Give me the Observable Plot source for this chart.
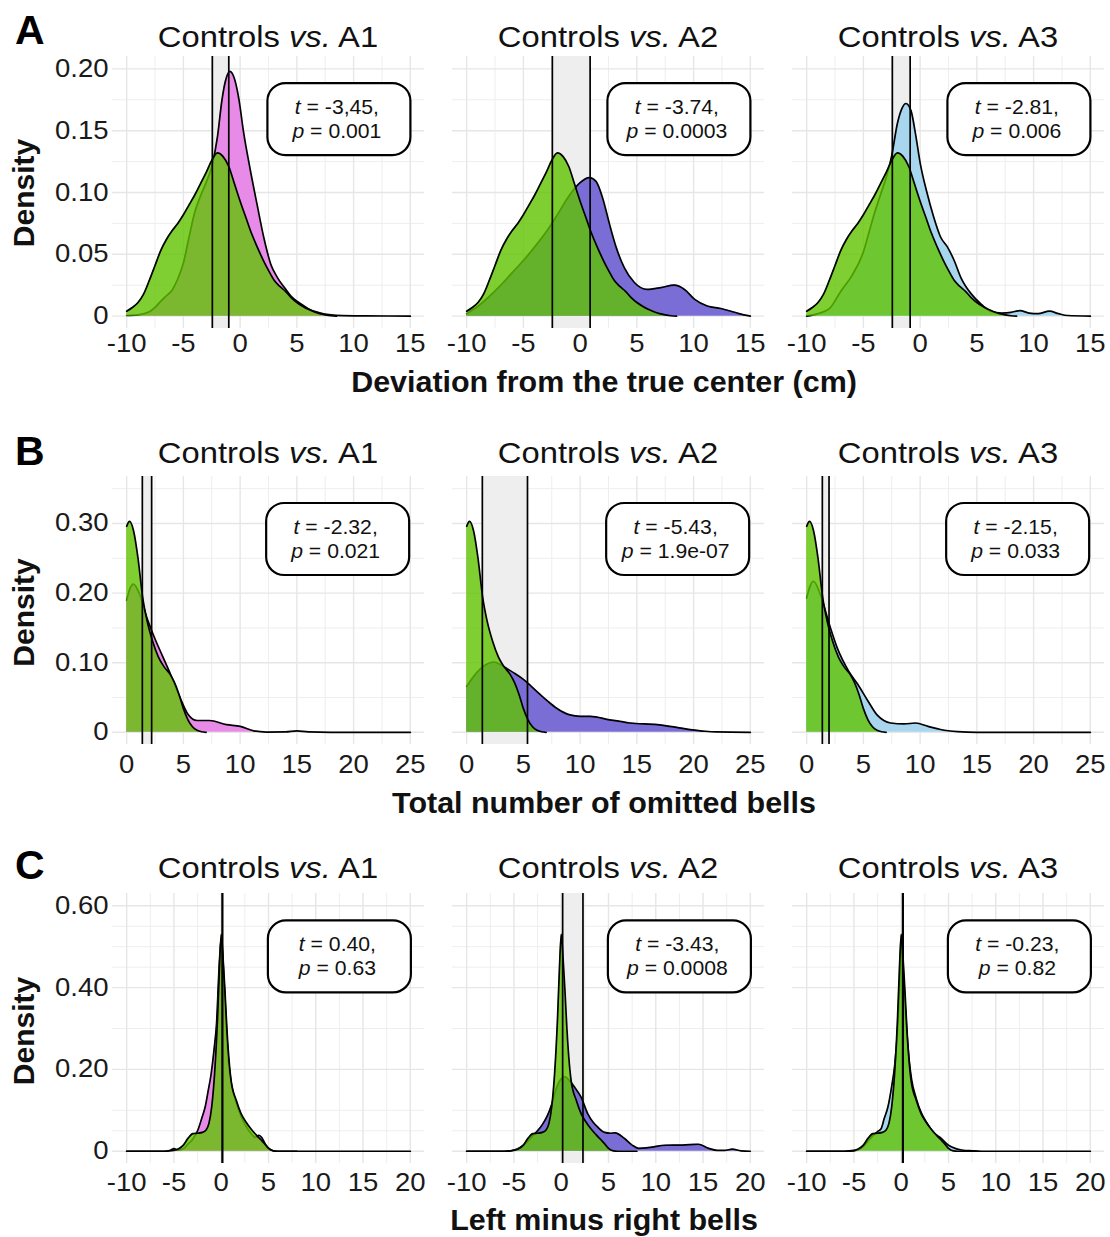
<!DOCTYPE html>
<html><head><meta charset="utf-8">
<script src="https://cdn.jsdelivr.net/npm/d3@7"></script>
<script src="https://cdn.jsdelivr.net/npm/@observablehq/plot@0.6"></script>
<style>
body{margin:0;background:#fff;}
#fig{position:relative;width:1110px;height:1237px;overflow:hidden;background:#fff;}
#fig > svg{position:absolute;}
</style></head><body><div id="fig"></div>
<script>
// ---------- DATA ----------
// Row A: Deviation from the true center (cm)
const ctrlA = [[-10,0.004],[-9.5,0.007],[-9,0.011],[-8.5,0.018],[-8,0.029],[-7.5,0.041],[-7,0.053],[-6.5,0.062],[-6,0.069],[-5.5,0.075],[-5,0.082],[-4.5,0.09],[-4,0.098],[-3.5,0.107],[-3,0.116],[-2.5,0.126],[-2,0.132],[-1.5,0.129],[-1,0.121],[-0.5,0.107],[0,0.093],[0.5,0.08],[1,0.067],[1.5,0.056],[2,0.046],[2.5,0.037],[3,0.029],[3.5,0.024],[4,0.02],[4.5,0.015],[5,0.011],[5.5,0.008],[6,0.0055],[6.5,0.0035],[7,0.002],[7.5,0.001],[8,0.0003],[8.5,0]];
const patA1 = [[-10,0.0005],[-9,0.001],[-8,0.0035],[-7.5,0.007],[-7,0.012],[-6.5,0.0165],[-6,0.021],[-5.5,0.03],[-5,0.043],[-4.5,0.064],[-4,0.084],[-3.5,0.097],[-3,0.108],[-2.5,0.121],[-2,0.145],[-1.6,0.175],[-1.3,0.19],[-0.9,0.198],[-0.5,0.192],[-0.1,0.175],[0.3,0.149],[0.9,0.118],[1.5,0.09],[2.1,0.063],[2.7,0.042],[3.3,0.031],[4,0.022],[4.5,0.016],[5,0.012],[5.5,0.009],[6,0.006],[7,0.0027],[8,0.001],[9,0.0004],[11,0.0002],[13,0.0001],[15,0]];
const patA2 = [[-10,0.002],[-9,0.008],[-8,0.016],[-7,0.025],[-6,0.035],[-5,0.045],[-4,0.056],[-3,0.068],[-2,0.082],[-1,0.097],[0,0.108],[0.8,0.112],[1.4,0.109],[2,0.095],[2.6,0.074],[3.2,0.055],[3.9,0.039],[4.8,0.027],[5.9,0.0216],[7.1,0.023],[8.3,0.0251],[9.2,0.0216],[10.1,0.0135],[11.2,0.0082],[12.4,0.0062],[13.3,0.004],[14,0.002],[15,0]];
const patA3 = [[-10,0],[-9,0.002],[-8,0.006],[-7,0.02],[-6,0.033],[-5,0.052],[-4.5,0.068],[-4,0.084],[-3.5,0.098],[-3,0.112],[-2.5,0.13],[-2,0.156],[-1.6,0.168],[-1.25,0.172],[-0.8,0.166],[-0.4,0.147],[0,0.124],[0.6,0.1],[1.2,0.08],[1.8,0.064],[2.4,0.056],[3,0.045],[3.6,0.031],[4.5,0.018],[5.4,0.0095],[6.2,0.004],[7.2,0.0025],[8,0.003],[8.8,0.0045],[9.6,0.0025],[10.4,0.002],[11.4,0.004],[12.2,0.002],[13,0.0005],[15,0]];
// Row B: Total number of omitted bells
const ctrlB = [[0,0.296],[0.25,0.303],[0.6,0.29],[1.0,0.25],[1.4,0.195],[1.8,0.16],[2.3,0.13],[2.8,0.108],[3.3,0.094],[3.8,0.084],[4.2,0.072],[4.6,0.055],[5.0,0.034],[5.4,0.018],[5.8,0.008],[6.2,0.003],[6.6,0.0008],[7,0]];
const patB1 = [[0,0.19],[0.3,0.207],[0.6,0.213],[1.15,0.198],[1.75,0.166],[2.3,0.142],[3.2,0.108],[3.9,0.082],[4.7,0.05],[5.4,0.026],[6.2,0.017],[7.3,0.017],[8.8,0.011],[10,0.0086],[11.2,0.002],[12.3,0.0003],[14,0.0005],[15,0.002],[16,0.0005],[18,0],[25,0]];
const patB2 = [[0,0.066],[0.6,0.08],[1.2,0.091],[1.8,0.098],[2.4,0.101],[3.0,0.097],[3.5,0.092],[4.2,0.085],[5.0,0.076],[5.7,0.066],[6.5,0.054],[7.2,0.044],[7.9,0.035],[8.5,0.029],[9.1,0.025],[10,0.023],[10.9,0.023],[12.6,0.018],[14.4,0.0134],[16.8,0.011],[17.9,0.0086],[19.7,0.004],[21,0.0015],[22,0.0005],[25,0]];
const patB3 = [[0,0.193],[0.3,0.21],[0.6,0.217],[1.2,0.198],[2.0,0.155],[2.7,0.121],[3.7,0.088],[4.5,0.069],[5.4,0.045],[6.2,0.025],[6.8,0.017],[7.4,0.0134],[8.6,0.012],[9.6,0.0134],[10.7,0.0086],[11.8,0.004],[13.3,0.001],[15,0],[25,0]];
// Row C: Left minus right bells
const ctrlC = [[-10,0],[-6,0],[-5,0.002],[-4.5,0.006],[-4,0.015],[-3.5,0.032],[-3,0.043],[-2.5,0.044],[-2,0.046],[-1.6,0.052],[-1.3,0.068],[-1,0.11],[-0.7,0.19],[-0.4,0.32],[-0.2,0.44],[0,0.53],[0.2,0.47],[0.4,0.39],[0.6,0.3],[0.8,0.23],[1.05,0.172],[1.6,0.124],[2.1,0.092],[2.6,0.072],[3.2,0.053],[3.7,0.04],[4.2,0.028],[4.6,0.018],[5,0.007],[5.5,0.001],[6,0],[8,0]];
const patC1 = [[-10,0],[-6,0],[-5.3,0.003],[-5,0.0066],[-4.6,0.003],[-4,0.006],[-3.5,0.018],[-3,0.03],[-2.5,0.05],[-2,0.085],[-1.7,0.108],[-1.4,0.145],[-1.06,0.19],[-0.75,0.25],[-0.5,0.31],[-0.2,0.46],[0,0.52],[0.2,0.46],[0.4,0.37],[0.6,0.28],[0.8,0.215],[1.05,0.168],[1.6,0.118],[2.1,0.085],[2.6,0.062],[3.2,0.042],[3.6,0.034],[4.0,0.039],[4.3,0.033],[4.7,0.016],[5.2,0.004],[5.8,0],[20,0]];
const patC2 = [[-10,0],[-6,0],[-5,0.003],[-4.3,0.01],[-3.5,0.025],[-3,0.038],[-2.5,0.05],[-2,0.065],[-1.5,0.085],[-1,0.115],[-0.5,0.155],[0,0.177],[0.4,0.182],[0.9,0.172],[1.4,0.157],[2.1,0.132],[2.8,0.092],[3.4,0.07],[3.9,0.058],[4.6,0.046],[5.2,0.044],[5.7,0.045],[6.7,0.031],[7.5,0.015],[8.2,0.007],[9,0.008],[9.6,0.01],[11,0.0146],[12.8,0.015],[14.5,0.017],[15.6,0.007],[16.5,0.002],[17.3,0.002],[18.1,0.005],[19,0.001],[20,0]];
const patC3 = [[-10,0],[-6,0],[-5,0.001],[-4.5,0.004],[-4,0.012],[-3.5,0.025],[-3,0.038],[-2.5,0.048],[-2.13,0.055],[-1.8,0.08],[-1.41,0.108],[-1.0,0.16],[-0.71,0.206],[-0.35,0.31],[-0.15,0.42],[0,0.51],[0.15,0.47],[0.35,0.38],[0.6,0.29],[0.85,0.22],[1.1,0.175],[1.6,0.128],[2.1,0.095],[2.7,0.07],[3.5,0.044],[4.2,0.032],[5,0.0146],[5.7,0.007],[6.4,0.003],[7.5,0.001],[8.5,0],[20,0]];

// group means (vertical lines)
const ctrlMeans = [-2.45, 1.38, 0.15];
const patMeansA = [-1.0, 0.88, -0.88];
const patMeansB = [2.2, 5.36, 1.97];
const patMeansC = [0.1, 2.3, 0.2];

// t-test labels
const tValsA = ["-3,45", "-3.74", "-2.81"], pValsA = ["0.001", "0.0003", "0.006"];
const tValsB = ["-2.32", "-5.43", "-2.15"], pValsB = ["0.021", "1.9e-07", "0.033"];
const tValsC = ["0.40", "-3.43", "-0.23"], pValsC = ["0.63", "0.0008", "0.82"];
const labelPos = [[8.75, 0.159], [18.64, 0.277], [12.55, 0.475]];

// titles and axes
const groups = ["A1", "A2", "A3"];
const rowLetters = ["A", "B", "C"];
const xTitles = ["Deviation from the true center (cm)", "Total number of omitted bells", "Left minus right bells"];
const xTicksA = [-10,-5,0,5,10,15], xMinorA = [-7.5,-2.5,2.5,7.5,12.5];
const yTicksA = [0,0.05,0.10,0.15,0.20], yMinorA = [0.025,0.075,0.125,0.175];
const xTicksB = [0,5,10,15,20,25], xMinorB = [2.5,7.5,12.5,17.5,22.5];
const yTicksB = [0,0.10,0.20,0.30], yMinorB = [0.05,0.15,0.25,0.35];
const xTicksC = [-10,-5,0,5,10,15,20], xMinorC = [-7.5,-2.5,2.5,7.5,12.5,17.5];
const yTicksC = [0,0.20,0.40,0.60], yMinorC = [0.05,0.10,0.30,0.45,0.50,0.55];

// ---------- STYLE / LAYOUT ----------
const FONT = '"Liberation Sans", Arial, Helvetica, sans-serif';
const patColors = ["#e88ae8", "#7a6ed6", "#a8d6ee"];
const ctrlColor = "#5fc300";
const TICK_STRETCH = 1.1, TITLE_STRETCH = 1.13, XTITLE_STRETCH = 1.05, LABEL_STRETCH = 1.06;
const cols = [
  {left: 0, ml: 112, mr: 14, w: 438, center: 268},
  {left: 438, ml: 14, mr: 14, w: 340, center: 608},
  {left: 778, ml: 14, mr: 6, w: 332, center: 948}
];
const rows = [
  {top: 56, frameH: 272, pad: 6, xDomain: [-11.25, 16.25], yDomain: [-0.01, 0.21], xTicks: xTicksA, xMinor: xMinorA, yTicks: yTicksA, yMinor: yMinorA,
   ctrl: ctrlA, pats: [patA1, patA2, patA3], patMeans: patMeansA, tv: tValsA, pv: pValsA,
   letterY: 43.5, titleY: 46.7, densY: 193, xTitleY: 392},
  {top: 476, frameH: 268, pad: 11, xDomain: [-1.25, 26.25], yDomain: [-0.0175, 0.3675], xTicks: xTicksB, xMinor: xMinorB, yTicks: yTicksB, yMinor: yMinorB,
   ctrl: ctrlB, pats: [patB1, patB2, patB3], patMeans: patMeansB, tv: tValsB, pv: pValsB,
   letterY: 465, titleY: 463.3, densY: 612.5, xTitleY: 813},
  {top: 893, frameH: 270, pad: 10, xDomain: [-11.5, 21.5], yDomain: [-0.03, 0.63], xTicks: xTicksC, xMinor: xMinorC, yTicks: yTicksC, yMinor: yMinorC,
   ctrl: ctrlC, pats: [patC1, patC2, patC3], patMeans: patMeansC, tv: tValsC, pv: pValsC,
   letterY: 879, titleY: 878.3, densY: 1031, xTitleY: 1230}
];

const fig = document.getElementById("fig");

// background text layer
const bg = d3.select(fig).append("svg").attr("width", 1110).attr("height", 1237)
  .style("left", "0px").style("top", "0px").attr("font-family", FONT);

rows.forEach((r, ri) => {
  bg.append("text").attr("x", 15).attr("y", r.letterY).attr("font-size", 41).attr("font-weight", "bold").attr("fill", "#000").text(rowLetters[ri]);
  cols.forEach((c, ci) => {
    const t = bg.append("text").attr("transform", `translate(${c.center},${r.titleY}) scale(${TITLE_STRETCH},1)`)
      .attr("text-anchor", "middle").attr("font-size", 29).attr("fill", "#111");
    t.append("tspan").text("Controls ");
    t.append("tspan").attr("font-style", "italic").text("vs.");
    t.append("tspan").text(" " + groups[ci]);
  });
  bg.append("text").attr("transform", `translate(34,${r.densY}) rotate(-90)`).attr("text-anchor", "middle")
    .attr("font-size", 30).attr("font-weight", "bold").attr("fill", "#111").text("Density");
  bg.append("text").attr("transform", `translate(604,${r.xTitleY}) scale(${XTITLE_STRETCH},1)`).attr("text-anchor", "middle")
    .attr("font-size", 29).attr("font-weight", "bold").attr("fill", "#111").text(xTitles[ri]);
});

const fmtY = d => d === 0 ? "0" : d.toFixed(2);
const X = d => d[0], Yv = d => d[1];

function labelMark(pos, tv, pv, domainX, domainY, c, r) {
  return function(index, scales) {
    const sx = scales && typeof scales.x === "function" ? scales.x : d3.scaleLinear(domainX, [c.ml, c.w - c.mr]);
    const sy = scales && typeof scales.y === "function" ? scales.y : d3.scaleLinear(domainY, [r.frameH, 0]);
    const cx = sx(pos[0]), cy = sy(pos[1]);
    const g = d3.create("svg:g").attr("class", "lab");
    g.append("rect").attr("x", cx - 71.5).attr("y", cy - 36).attr("width", 143).attr("height", 72)
      .attr("rx", 18).attr("ry", 18).attr("fill", "white").attr("stroke", "black").attr("stroke-width", 2.2);
    const t = g.append("text").attr("transform", `translate(${cx - 2},${cy}) scale(${LABEL_STRETCH},1)`)
      .attr("text-anchor", "middle").attr("font-size", 20).attr("fill", "#111").attr("font-family", FONT);
    const l1 = t.append("tspan").attr("x", 0).attr("y", -5);
    l1.append("tspan").attr("font-style", "italic").text("t");
    l1.append("tspan").text(" = " + tv + ",");
    const l2 = t.append("tspan").attr("x", 0).attr("y", 19);
    l2.append("tspan").attr("font-style", "italic").text("p");
    l2.append("tspan").text(" = " + pv);
    return g.node();
  };
}

rows.forEach((r, ri) => {
  cols.forEach((c, ci) => {
    const pat = r.pats[ci];
    const m1 = ctrlMeans[ri], m2 = r.patMeans[ci];
    const curve = "monotone-x";
    const yOpt = ci === 0
      ? {domain: r.yDomain, ticks: r.yTicks, tickSize: 0, tickPadding: 4, tickFormat: fmtY, label: null}
      : {domain: r.yDomain, axis: null};
    const plot = Plot.plot({
      width: c.w, height: r.frameH + 40,
      marginLeft: c.ml, marginRight: c.mr, marginTop: 0, marginBottom: 40,
      style: {background: "transparent", fontFamily: FONT, fontSize: "25px", color: "#1a1a1a", overflow: "visible"},
      x: {domain: r.xDomain, ticks: r.xTicks, tickSize: 0, tickPadding: r.pad, tickFormat: d => String(d), label: null},
      y: yOpt,
      marks: [
        Plot.ruleX(r.xMinor, {stroke: "#eeeeee", strokeWidth: 1}),
        Plot.ruleY(r.yMinor, {stroke: "#eeeeee", strokeWidth: 1}),
        Plot.ruleX(r.xTicks, {stroke: "#e6e6e6", strokeWidth: 1.4}),
        Plot.ruleY(r.yTicks, {stroke: "#e6e6e6", strokeWidth: 1.4}),
        Plot.rect([{a: Math.min(m1, m2), b: Math.max(m1, m2)}], {x1: "a", x2: "b", fill: "#eeeeee"}),
        Plot.areaY(pat, {x: X, y: Yv, fill: patColors[ci], curve}),
        Plot.lineY(pat, {x: X, y: Yv, stroke: "black", strokeWidth: 1.7, curve}),
        Plot.areaY(r.ctrl, {x: X, y: Yv, fill: ctrlColor, fillOpacity: 0.8, curve}),
        Plot.lineY(r.ctrl, {x: X, y: Yv, stroke: "black", strokeWidth: 1.7, curve}),
        Plot.ruleX([m1, m2], {stroke: "black", strokeWidth: 1.7}),
        labelMark(labelPos[ri], r.tv[ci], r.pv[ci], r.xDomain, r.yDomain, c, r)
      ]
    });
    // widen tick labels slightly to match the reference's letter widths
    plot.querySelectorAll("text").forEach(t => {
      if (t.closest(".lab")) return;
      const tr = t.getAttribute("transform") || "";
      t.setAttribute("transform", (tr + ` scale(${TICK_STRETCH},1)`).trim());
    });
    plot.style.position = "absolute";
    plot.style.left = c.left + "px";
    plot.style.top = r.top + "px";
    plot.style.maxWidth = "none";
    fig.appendChild(plot);
  });
});
</script></body></html>
